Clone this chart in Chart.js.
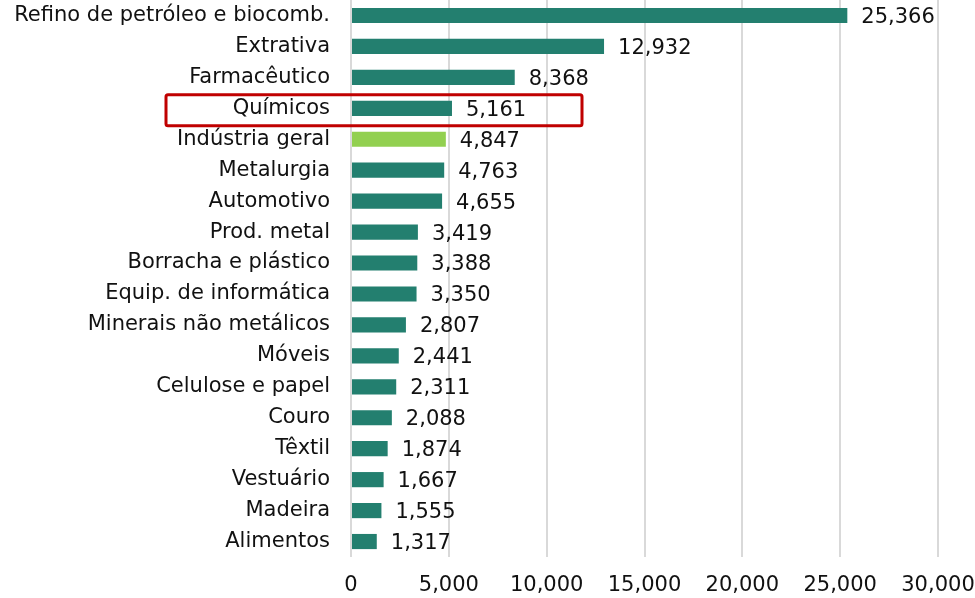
<!DOCTYPE html>
<html>
<head>
<meta charset="utf-8">
<script src="https://cdn.jsdelivr.net/npm/chart.js@4.4.0/dist/chart.umd.min.js"></script>
<style>
  html, body { margin: 0; padding: 0; background: #ffffff; }
  #wrap { width: 975px; height: 598px; position: relative; }
</style>
</head>
<body>
<div id="wrap"><canvas id="c" width="975" height="598"></canvas></div>
<script>
const categories = [
  "Refino de petróleo e biocomb.", "Extrativa", "Farmacêutico", "Químicos",
  "Indústria geral", "Metalurgia", "Automotivo", "Prod. metal",
  "Borracha e plástico", "Equip. de informática", "Minerais não metálicos",
  "Móveis", "Celulose e papel", "Couro", "Têxtil", "Vestuário", "Madeira", "Alimentos"
];
const values = [25366, 12932, 8368, 5161, 4847, 4763, 4655, 3419, 3388, 3350, 2807, 2441, 2311, 2088, 1874, 1667, 1555, 1317];
const highlightCategory = "Indústria geral";
const boxedCategory = "Químicos";
const xTicks = [0, 5000, 10000, 15000, 20000, 25000, 30000];

const FONT = "'DejaVu Sans', Verdana, sans-serif";
const FS = 21;
const TEAL = "#237F6F";
const LIGHT = "#92D050";
const TEXT = "#111111";

const fmt = v => v.toLocaleString('en-US');

const dataLabels = {
  id: 'dataLabels',
  afterDatasetsDraw(chart) {
    const ctx = chart.ctx;
    const meta = chart.getDatasetMeta(0);
    ctx.save();
    ctx.font = FS + "px " + FONT;
    ctx.fillStyle = TEXT;
    ctx.textAlign = "left";
    ctx.textBaseline = "middle";
    meta.data.forEach((bar, i) => {
      ctx.fillText(fmt(values[i]), bar.x + 14, bar.y + 2);
    });
    ctx.restore();
  }
};

const boxPlugin = {
  id: 'boxPlugin',
  afterDraw(chart) {
    const ctx = chart.ctx;
    const y = chart.scales.y.getPixelForValue(categories.indexOf(boxedCategory)) + 2;
    const x0 = 166;
    const x1 = 582;
    const h = 31;
    ctx.save();
    ctx.strokeStyle = "#C00000";
    ctx.lineWidth = 3;
    ctx.beginPath();
    if (ctx.roundRect) ctx.roundRect(x0, y - h / 2, x1 - x0, h, 2);
    else ctx.rect(x0, y - h / 2, x1 - x0, h);
    ctx.stroke();
    ctx.restore();
  }
};

new Chart(document.getElementById('c'), {
  type: 'bar',
  data: {
    labels: categories,
    datasets: [{
      data: values,
      backgroundColor: categories.map(c => c === highlightCategory ? LIGHT : TEAL),
      borderWidth: 0,
      barPercentage: 0.49,
      categoryPercentage: 1.0
    }]
  },
  options: {
    indexAxis: 'y',
    responsive: false,
    animation: false,
    devicePixelRatio: 1,
    layout: { padding: { top: 0, right: 37, bottom: 0, left: 0 } },
    plugins: { legend: { display: false }, tooltip: { enabled: false } },
    scales: {
      x: {
        min: 0, max: 30000,
        afterBuildTicks(scale) { scale.ticks = xTicks.map(v => ({ value: v })); },
        afterFit(scale) {
          scale.height = 41;
          scale.paddingLeft = 0; scale.paddingRight = 0;
          scale.paddingTop = 0; scale.paddingBottom = 0;
        },
        grid: { color: "#D9D9D9", lineWidth: 2, drawTicks: false },
        border: { display: false },
        ticks: {
          padding: 16,
          maxRotation: 0, minRotation: 0,
          color: TEXT,
          font: { family: FONT, size: FS },
          callback: v => fmt(v)
        }
      },
      y: {
        afterFit(scale) {
          scale.width = 351;
          scale.paddingTop = 0; scale.paddingBottom = 0;
          scale.paddingLeft = 0; scale.paddingRight = 0;
        },
        grid: { display: false, drawTicks: false },
        border: { display: false },
        ticks: {
          padding: 21,
          color: TEXT,
          font: { family: FONT, size: FS },
          autoSkip: false
        }
      }
    }
  },
  plugins: [dataLabels, boxPlugin]
});
</script>
</body>
</html>
